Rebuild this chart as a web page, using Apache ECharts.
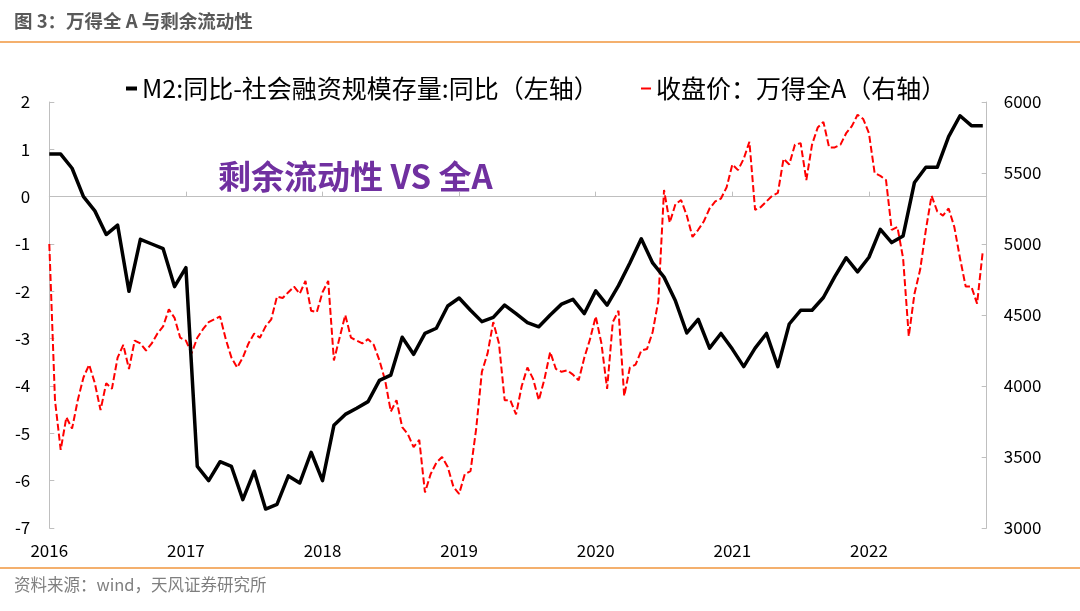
<!DOCTYPE html>
<html>
<head>
<meta charset="utf-8">
<script src="https://cdn.jsdelivr.net/npm/echarts@6/dist/echarts.min.js"></script>
<style>
  html, body { margin: 0; padding: 0; background: #ffffff; }
  #root { width: 1080px; height: 611px; }
</style>
</head>
<body>
<div id="root"></div>
<script>
// M2 yoy minus social financing stock yoy, monthly from 2016-01 to 2022-11
var m2Start = 2016;
var m2Gap = [
  0.9, 0.9, 0.6, 0.0, -0.3, -0.8, -0.6, -2.0, -0.9, -1.0, -1.1, -1.9,
  -1.5, -5.7, -6.0, -5.6, -5.7, -6.4, -5.8, -6.6, -6.5, -5.9, -6.05, -5.4,
  -6.0, -4.83, -4.6, -4.47, -4.33, -3.88, -3.77, -2.97, -3.33, -2.89, -2.78, -2.31,
  -2.14, -2.4, -2.64, -2.55, -2.29, -2.47, -2.66, -2.75, -2.5, -2.27, -2.17, -2.47,
  -1.99, -2.29, -1.88, -1.4, -0.89, -1.4, -1.7, -2.2, -2.88, -2.59, -3.2, -2.89,
  -3.22, -3.59, -3.2, -2.89, -3.59, -2.69, -2.4, -2.4, -2.13, -1.69, -1.29, -1.59,
  -1.28, -0.69, -0.97, -0.83, 0.3, 0.62, 0.62, 1.27, 1.71, 1.5, 1.5
];

// Wind All A close, read every half month from 2016-01
var closeStart = 2016;
var windA = [
  5000, 3900, 3550, 3780, 3700, 3900, 4060, 4150, 4020, 3830, 4020, 3980,
  4200, 4290, 4120, 4320, 4300, 4250, 4300, 4370, 4420, 4540, 4480, 4340,
  4320, 4230, 4340, 4400, 4450, 4470, 4490, 4330, 4200, 4130, 4200, 4300,
  4370, 4340, 4420, 4470, 4630, 4620, 4660, 4700, 4650, 4740, 4530, 4520,
  4660, 4740, 4180, 4340, 4500, 4340, 4320, 4300, 4330, 4290, 4180, 4040,
  3820, 3900, 3710, 3660, 3570, 3620, 3250, 3380, 3460, 3500, 3430, 3290,
  3240, 3380, 3400, 3700, 4100, 4230, 4450, 4300, 3900, 3900, 3800, 4000,
  4130, 4050, 3900, 4050, 4240, 4120, 4100, 4110, 4080, 4040, 4200, 4330,
  4490, 4300, 3980, 4450, 4530, 3930, 4130, 4150, 4250, 4260, 4380, 4600,
  5380, 5150, 5280, 5310, 5200, 5050, 5100, 5160, 5250, 5300, 5320, 5400,
  5560, 5520, 5600, 5720, 5240, 5260, 5300, 5340, 5360, 5600, 5560, 5700,
  5710, 5450, 5700, 5820, 5860, 5680, 5680, 5700, 5780, 5830, 5910, 5880,
  5780, 5500, 5480, 5450, 5100, 5120, 4900, 4350, 4650, 4820, 5100, 5340,
  5230, 5200, 5250, 5120, 4900, 4700, 4700, 4580, 4950
];

var yearTicks = [2016, 2017, 2018, 2019, 2020, 2021, 2022];
var xEnd = 2022.862;

var m2Data = m2Gap.map(function (v, i) { return [m2Start + i / 12, v]; });
var closeData = windA.map(function (v, i) { return [closeStart + i / 24, v]; });

var cjk = '"Noto Sans CJK SC", "Noto Sans", sans-serif';
var axisGray = '#bfbfbf';

var chart = echarts.init(document.getElementById('root'));
chart.setOption({
  animation: false,
  backgroundColor: '#ffffff',
  textStyle: { fontFamily: cjk },
  grid: { left: 49.3, right: 93.3, top: 102, bottom: 83 },
  legend: [
    {
      data: [{ name: 'M2:同比-社会融资规模存量:同比（左轴）', icon: 'rect' }],
      left: 121, top: 71,
      itemWidth: 11, itemHeight: 4,
      textStyle: { fontSize: 25, color: '#000', fontFamily: cjk }
    },
    {
      data: [{ name: '收盘价：万得全A（右轴）', icon: 'rect' }],
      left: 636, top: 71,
      itemWidth: 10, itemHeight: 2,
      textStyle: { fontSize: 25, color: '#000', fontFamily: cjk }
    }
  ],
  xAxis: [
    {
      type: 'value', min: 2016, max: xEnd, interval: 1, position: 'bottom',
      axisLine: { show: false, onZero: false },
      axisTick: { show: false },
      splitLine: { show: false },
      axisLabel: {
        margin: 14, fontSize: 17, color: '#000', showMaxLabel: false,
        formatter: function (v) { return yearTicks.indexOf(v) >= 0 ? String(v) : ''; }
      }
    },
    {
      type: 'value', min: 2016, max: xEnd, interval: 1, position: 'bottom',
      axisLine: { show: true, onZero: true, onZeroAxisIndex: 0, lineStyle: { color: axisGray, width: 1 } },
      axisTick: { show: true, inside: true, length: 5, lineStyle: { color: axisGray } },
      axisLabel: { show: false },
      splitLine: { show: false }
    }
  ],
  yAxis: [
    {
      type: 'value', min: -7, max: 2, interval: 1, position: 'left',
      axisLine: { show: true, lineStyle: { color: axisGray } },
      axisTick: { show: true, inside: true, length: 5, lineStyle: { color: axisGray } },
      splitLine: { show: false },
      axisLabel: { margin: 19, fontSize: 17, color: '#000' }
    },
    {
      type: 'value', min: 3000, max: 6000, interval: 500, position: 'right',
      axisLine: { show: true, onZero: false, lineStyle: { color: axisGray } },
      axisTick: { show: true, inside: true, length: 5, lineStyle: { color: axisGray } },
      splitLine: { show: false },
      axisLabel: { margin: 17, fontSize: 17, color: '#000', formatter: function (v) { return String(v); } }
    }
  ],
  series: [
    {
      name: '收盘价：万得全A（右轴）',
      type: 'line',
      xAxisIndex: 0, yAxisIndex: 1,
      data: closeData,
      showSymbol: false,
      itemStyle: { color: '#ff0000' },
      lineStyle: { color: '#ff0000', width: 2, type: [7, 3] },
      z: 2
    },
    {
      name: 'M2:同比-社会融资规模存量:同比（左轴）',
      type: 'line',
      xAxisIndex: 0, yAxisIndex: 0,
      data: m2Data,
      showSymbol: false,
      itemStyle: { color: '#000000' },
      lineStyle: { color: '#000000', width: 3.5, join: 'round' },
      z: 3
    }
  ],
  graphic: [
    {
      type: 'text', left: 14, top: 12,
      style: { text: '图 3：万得全 A 与剩余流动性', fontSize: 18.5, fontWeight: 'bold', fill: '#595959', fontFamily: cjk }
    },
    {
      type: 'line', shape: { x1: 0, y1: 42, x2: 1080, y2: 42 },
      style: { stroke: '#f0963c', lineWidth: 1.5 }
    },
    {
      type: 'text', left: 218, top: 160,
      style: { text: '剩余流动性 VS 全A', fontSize: 33, fontWeight: 'bold', fill: '#7030a0', fontFamily: cjk }
    },
    {
      type: 'line', shape: { x1: 0, y1: 568, x2: 1080, y2: 568 },
      style: { stroke: '#f0963c', lineWidth: 1.5 }
    },
    {
      type: 'text', left: 14, top: 576,
      style: { text: '资料来源：wind，天风证券研究所', fontSize: 16.5, fill: '#7f7f7f', fontFamily: cjk }
    }
  ]
});
</script>
</body>
</html>
